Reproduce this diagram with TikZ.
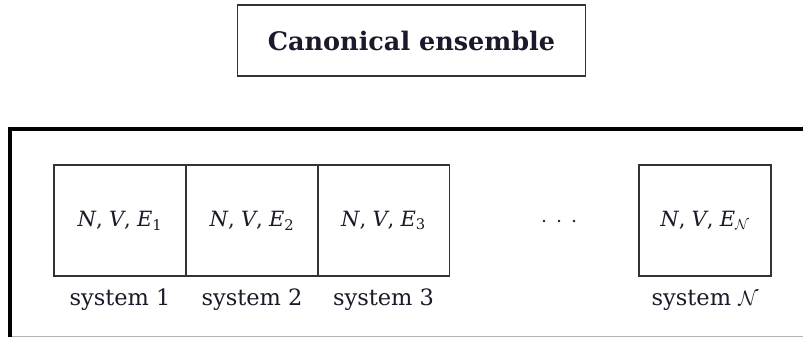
\documentclass[tikz,border=0pt]{standalone}
\usepackage{fontspec}
\setmainfont{DejaVu Serif}
\definecolor{ink}{HTML}{1A1A2A}
\definecolor{boxline}{HTML}{333333}
\begin{document}
\begin{tikzpicture}[x=1pt,y=-1pt,
  titlebox/.style={draw=boxline, line width=1.4pt, minimum width=348pt, minimum height=71pt, inner sep=0pt, font=\fontsize{25.5}{30}\selectfont\bfseries, text=ink},
  sysbox/.style={draw=boxline, line width=1.2pt, minimum width=132pt, minimum height=111pt, inner sep=0pt, font=\fontsize{21}{25}\selectfont, text=ink},
  syslabel/.style={font=\fontsize{22.5}{27}\selectfont, text=ink, inner sep=0pt},
  dotmark/.style={circle, fill=ink, inner sep=0pt, minimum size=2.6pt}]
\useasboundingbox (0,0) rectangle (803,337);
\fill[white] (0,0) rectangle (803,337);
% title
\node[titlebox] (title) at (411.5,40.5) {Canonical ensemble};
% big frame
\coordinate (fl) at (10,337);
\coordinate (ftl) at (10,129);
\coordinate (ftr) at (803,129);
\draw[line width=4pt, line cap=rect] (fl) -- (ftl) -- (ftr);
\draw[black!30, line width=1pt] (12,336.5) -- (803,336.5);
% systems
\node[sysbox] (s1) at (120,220.5) {\textit{N},\hspace{0.3em}\textit{V},\hspace{0.3em}\textit{E}\textsubscript{1}};
\node[sysbox] (s2) at (252,220.5) {\textit{N},\hspace{0.3em}\textit{V},\hspace{0.3em}\textit{E}\textsubscript{2}};
\node[sysbox] (s3) at (383.5,220.5) {\textit{N},\hspace{0.3em}\textit{V},\hspace{0.3em}\textit{E}\textsubscript{3}};
\node[sysbox] (sN) at (705,220.5) {\textit{N},\hspace{0.3em}\textit{V},\hspace{0.3em}\textit{E}$_{\mathcal{N}}$};
\node[dotmark] (d1) at (544,221) {};
\node[dotmark] (d2) at (559,221) {};
\node[dotmark] (d3) at (574,221) {};
% labels
\node[syslabel] (l1) at (120,300) {system 1};
\node[syslabel] (l2) at (252,300) {system 2};
\node[syslabel] (l3) at (383.5,300) {system 3};
\node[syslabel] (lN) at (705,300) {system $\mathcal{N}$};
\end{tikzpicture}
\end{document}
